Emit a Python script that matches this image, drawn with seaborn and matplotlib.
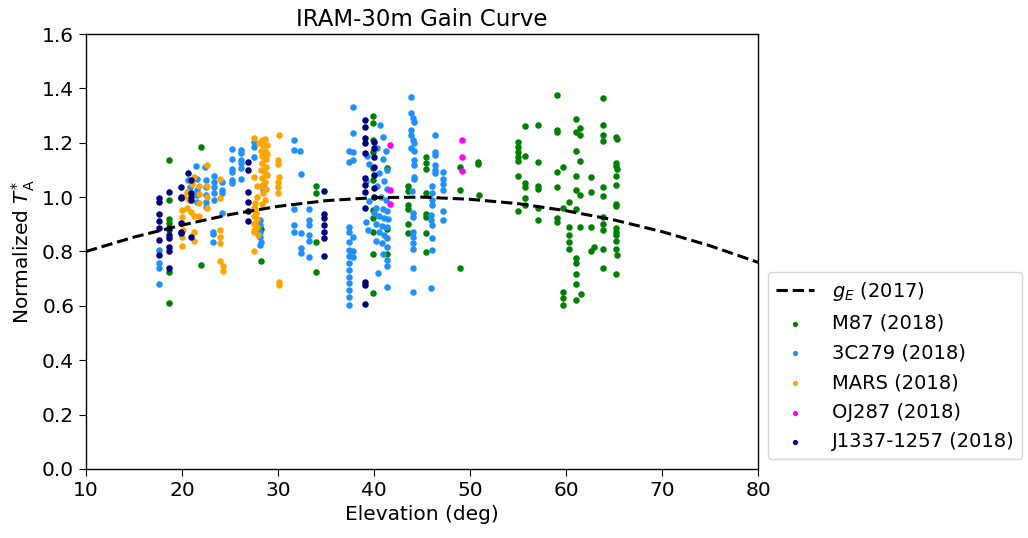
import numpy as np
import pandas as pd
import matplotlib
matplotlib.use("Agg")
import matplotlib.pyplot as plt
import seaborn as sns

# gain curve g_E (2017), every 5 deg
curve_elev = [10, 15, 20, 25, 30, 35, 40, 45, 50, 55, 60, 65, 70, 75, 80]
curve_gain = [0.800, 0.853, 0.897, 0.936, 0.966, 0.987, 0.998, 1.000, 0.992,
              0.976, 0.950, 0.916, 0.873, 0.821, 0.760]

# M87 (2018)
m87_elev = [59.1, 63.8, 55.7, 57.05, 61.0, 59.1, 59.1, 61.0, 61.5, 61.5, 63.8, 63.8, 63.8, 65.2, 65.3,
            55.0, 55.0, 55.0, 55.0, 55.0, 55.7, 57.05, 61.0, 61.5, 65.2, 65.2, 65.3, 59.1, 59.65, 50.8, 50.8,
            55.0, 61.0, 62.6, 65.2, 55.7, 55.7, 57.05, 57.05, 59.1, 63.8, 63.8, 65.2, 50.9, 61.0, 61.5, 62.6,
            55.7, 60.3, 55.7, 55.0, 57.05, 57.05, 59.65, 61.0, 65.2, 65.2, 59.1, 59.1, 60.3, 61.5, 62.6,
            63.8, 63.8, 63.8, 65.2, 65.2, 65.2, 60.3, 60.3, 60.3, 62.9, 62.6, 63.8, 65.2, 65.2, 65.3,
            61.0, 61.0, 61.0, 61.0, 61.0, 63.8, 65.2, 59.65, 59.65, 59.65, 61.6,
            49.0, 49.0, 49.0, 43.5, 43.5, 43.5, 43.5, 43.5, 43.5, 45.4, 45.4, 45.4, 45.4, 45.4, 45.4, 45.4, 45.4,
            39.9, 39.9, 39.9, 39.9, 39.9, 39.9, 41.3, 39.9, 39.9, 39.9, 41.3, 39.9, 41.3, 39.9,
            34.0, 34.0, 34.0, 34.0, 28.2, 28.2,
            18.6, 18.6, 18.6, 18.6, 18.6, 18.6, 18.6, 22.0, 22.0]
m87_gain = [1.375, 1.363, 1.260, 1.266, 1.286, 1.247, 1.240, 1.240, 1.253, 1.228, 1.265, 1.228, 1.207, 1.222, 1.215,
            1.204, 1.186, 1.167, 1.149, 1.134, 1.150, 1.131, 1.169, 1.132, 1.127, 1.114, 1.105, 1.092, 1.110, 1.131, 1.122,
            1.079, 1.079, 1.074, 1.079, 1.051, 1.036, 1.040, 1.030, 1.036, 1.036, 1.003, 1.043, 1.009, 1.025, 1.009, 1.017,
            0.995, 0.983, 0.970, 0.949, 0.961, 0.917, 0.961, 0.957, 0.975, 0.966, 0.922, 0.907, 0.891, 0.891, 0.891,
            0.926, 0.901, 0.879, 0.885, 0.873, 0.859, 0.860, 0.834, 0.809, 0.818, 0.802, 0.809, 0.840, 0.810, 0.786,
            0.777, 0.758, 0.719, 0.680, 0.622, 0.738, 0.719, 0.651, 0.628, 0.602, 0.643,
            1.112, 1.028, 0.738, 1.041, 1.024, 0.970, 0.958, 0.900, 0.867, 1.146, 1.127, 1.105, 1.016, 0.938, 0.926, 0.867, 0.797,
            1.298, 1.271, 1.210, 1.167, 1.106, 1.063, 1.106, 0.953, 0.922, 0.873, 0.881, 0.791, 0.791, 0.648,
            1.041, 1.014, 0.836, 0.726, 0.881, 0.765,
            1.136, 0.988, 0.918, 0.906, 0.880, 0.726, 0.609, 1.183, 0.750]

# 3C279 (2018)
c3c279_elev = [17.6, 17.6, 17.6, 17.6,
               21.5, 22.4, 20.66, 20.8, 21.6, 21.6, 21.6, 21.6, 22.5, 22.5, 22.5, 22.5, 22.5,
               23.3, 23.3, 23.3, 23.3, 23.3, 23.2, 23.2, 23.2, 24.2, 24.2, 24.2, 24.2,
               25.2, 25.2, 25.2, 25.2, 25.2, 25.2, 26.1, 26.1, 26.1, 26.1, 26.1, 26.1,
               27.5, 27.5, 27.5, 28.1, 28.1, 28.1, 28.1, 28.2, 28.1, 28.4, 28.4,
               31.7, 31.7, 32.3, 32.4, 31.7, 31.7, 31.7, 32.4, 32.4, 32.4, 33.2, 33.2, 33.2, 33.2, 33.2, 33.2,
               37.8, 37.8, 37.4, 37.8, 37.4, 37.8, 37.4, 37.4, 37.8, 37.4, 37.4, 37.8, 37.4, 37.8,
               37.4, 37.4, 37.4, 37.4, 37.4, 37.4, 37.4,
               40.6, 40.9, 40.3, 41.2, 40.9, 41.4, 40.5, 41.0, 40.3, 41.4, 40.7, 41.2, 39.5, 40.2, 40.9,
               41.4, 40.5, 41.0, 41.5, 39.2, 40.2, 40.8, 41.3, 40.5, 41.0, 41.4, 39.4, 40.2, 40.8, 41.3,
               40.9, 41.4, 40.4, 41.4, 41.3, 39.2, 39.3, 39.5, 40.0,
               43.8, 43.8, 44.1, 44.2, 43.8, 43.8, 44.1, 44.2, 44.2, 43.8, 44.2, 44.2, 44.2, 44.2, 44.0,
               44.1, 44.1, 44.1, 44.1, 44.1, 44.1, 44.1, 44.1,
               46.4, 46.4, 46.4, 46.4, 46.4, 46.4, 47.2, 47.2, 47.2, 47.2, 46.0, 46.0, 46.0, 46.0,
               45.9, 45.9, 46.0, 47.2, 47.2, 46.0, 46.0, 45.9]
c3c279_gain = [0.805, 0.757, 0.741, 0.680,
               1.114, 1.110, 1.063, 1.038, 1.068, 1.026, 1.008, 0.983, 1.063, 1.038, 1.008, 0.983, 0.965,
               1.078, 1.057, 1.038, 1.014, 0.989, 0.873, 0.865, 0.834, 1.057, 1.026, 1.014, 0.940,
               1.176, 1.139, 1.102, 1.094, 1.063, 1.053, 1.173, 1.163, 1.136, 1.126, 1.106, 1.068,
               1.204, 1.186, 1.149, 0.916, 0.898, 0.873, 0.855, 0.835, 0.823, 1.044, 1.026,
               1.210, 1.173, 1.171, 1.084, 0.956, 0.897, 0.873, 0.869, 0.811, 0.796, 0.958, 0.916, 0.897, 0.860, 0.840, 0.781,
               1.330, 1.235, 1.170, 1.167, 1.130, 1.135, 0.891, 0.873, 0.855, 0.836, 0.805, 0.800, 0.782, 0.780,
               0.757, 0.732, 0.707, 0.683, 0.658, 0.634, 0.603,
               1.265, 1.220, 1.180, 1.170, 1.140, 1.100, 1.090, 1.060, 1.040, 1.030, 1.000, 0.990, 0.985, 0.960, 0.955,
               0.950, 0.930, 0.925, 0.920, 0.910, 0.900, 0.895, 0.890, 0.870, 0.860, 0.850, 0.880, 0.840, 0.830, 0.815,
               0.790, 0.770, 0.720, 0.745, 0.670, 1.060, 1.150, 1.120, 0.940,
               1.367, 1.310, 1.290, 1.275, 1.247, 1.230, 1.210, 1.200, 1.170, 1.182, 1.136, 1.118, 1.075, 1.065, 1.021,
               0.940, 0.928, 0.873, 0.855, 0.830, 0.810, 0.738, 0.652,
               1.228, 1.167, 1.155, 1.118, 1.100, 1.090, 1.094, 1.066, 1.050, 1.026, 1.040, 1.014, 0.989, 0.970,
               0.935, 0.917, 0.897, 0.950, 0.916, 0.848, 0.805, 0.665]

# MARS (2018)
mars_elev = [22.6, 21.2, 21.8, 21.8, 21.8, 21.8, 22.6, 22.6, 22.6, 20.0, 20.0, 20.0, 20.1, 20.0, 20.0,
             20.5, 20.9, 21.2, 21.2, 21.2, 20.2, 20.5, 21.0, 20.7,
             24.0, 24.0, 24.0, 24.0, 24.0, 24.0, 24.3, 24.3,
             27.5, 28.3, 28.6, 28.0, 28.4, 28.8, 28.2, 28.6, 28.9, 28.3, 28.7, 28.3, 28.7, 28.2, 28.6, 28.9,
             28.3, 28.6, 28.2, 28.7, 28.4, 28.6, 28.3, 27.5, 27.8, 27.8, 27.6, 27.5, 27.5, 27.5, 27.5, 27.5,
             27.6, 27.7, 27.8, 27.6, 27.8, 27.5, 27.9,
             30.1, 30.0, 30.0, 30.1, 30.0, 30.0, 30.0, 30.1, 30.1]
mars_gain = [1.118, 1.075, 1.040, 1.010, 0.980, 0.930, 1.040, 1.000, 0.960, 0.953, 0.928, 0.904, 0.880, 0.855, 0.820,
             0.960, 0.945, 0.930, 0.870, 0.840, 1.000, 1.020, 1.050, 0.990,
             1.066, 0.995, 0.880, 0.855, 0.830, 0.764, 0.745, 0.730,
             1.216, 1.210, 1.215, 1.200, 1.190, 1.190, 1.170, 1.170, 1.160, 1.150, 1.140, 1.125, 1.110, 1.100, 1.090, 1.080,
             1.070, 1.055, 1.040, 1.030, 1.015, 0.990, 0.975, 1.075, 1.040, 1.000, 0.980, 0.960, 0.930, 0.900, 0.880, 0.800,
             0.955, 0.940, 0.920, 0.905, 0.890, 0.870, 0.860,
             1.228, 1.136, 1.122, 1.075, 1.056, 1.038, 1.014, 0.689, 0.677]

# OJ287 (2018)
oj287_elev = [41.7, 41.7, 41.7, 49.2, 49.2, 49.2]
oj287_gain = [1.190, 1.028, 0.975, 1.210, 1.146, 1.097]

# J1337-1257 (2018)
j1337_elev = [17.6, 17.6, 17.6, 17.6, 17.6, 17.6, 17.6,
              18.6, 18.6, 18.6, 18.6, 18.6, 18.6, 18.6,
              19.9, 19.9, 19.9, 19.9, 19.9, 19.9,
              20.9, 20.9, 20.9, 20.9, 20.9, 20.6,
              26.9, 26.9, 26.9, 26.9, 26.9, 26.9,
              34.8, 34.8, 34.8, 34.8, 34.8, 34.8, 34.8,
              39.1, 39.1, 39.1, 39.1, 39.1, 39.1, 39.1, 39.1, 39.1, 39.1, 39.1, 39.1,
              40.0, 40.0, 40.0, 40.0, 40.0, 40.0, 40.0]
j1337_gain = [0.995, 0.983, 0.938, 0.913, 0.885, 0.842, 0.787,
              1.020, 0.885, 0.860, 0.848, 0.818, 0.800, 0.738,
              1.038, 1.001, 0.995, 0.903, 0.873, 0.867,
              1.063, 1.014, 1.001, 0.989, 0.855, 1.087,
              1.130, 1.100, 1.020, 0.983, 0.949, 0.912,
              1.022, 0.937, 0.922, 0.897, 0.873, 0.851, 0.785,
              1.284, 1.259, 1.216, 1.198, 1.163, 1.069, 1.045, 1.020, 0.959, 0.689, 0.677, 0.607,
              1.204, 1.180, 1.149, 1.112, 1.081, 1.032, 1.001]

sources = [
    ("M87 (2018)", m87_elev, m87_gain, "green"),
    ("3C279 (2018)", c3c279_elev, c3c279_gain, "dodgerblue"),
    ("MARS (2018)", mars_elev, mars_gain, "orange"),
    ("OJ287 (2018)", oj287_elev, oj287_gain, "magenta"),
    ("J1337-1257 (2018)", j1337_elev, j1337_gain, "navy"),
]

sns.set_style("ticks")
plt.rcParams["font.family"] = ["DejaVu Sans"]
plt.rcParams["font.size"] = 14.5
for key in ["text.color", "axes.labelcolor", "xtick.color", "ytick.color", "axes.edgecolor"]:
    plt.rcParams[key] = "black"
plt.rcParams["xtick.major.size"] = 5
plt.rcParams["ytick.major.size"] = 5
plt.rcParams["axes.linewidth"] = 1.0

fig = plt.figure(figsize=(10.28, 5.38), dpi=100)
ax = fig.add_axes([0.0837, 0.1283, 0.6537, 0.8085])

curve = pd.DataFrame({"elev": curve_elev, "gain": curve_gain})
sns.lineplot(data=curve, x="elev", y="gain", ax=ax, color="black", linestyle="--",
             linewidth=2.2, label=r"$g_E$ (2017)")

for name, elev, gain, col in sources:
    df = pd.DataFrame({"elev": elev, "gain": gain})
    sns.scatterplot(data=df, x="elev", y="gain", ax=ax, color=col, s=22,
                    linewidth=0, label=name)

ax.set_xlim(10, 80)
ax.set_ylim(0, 1.6)
ax.set_xticks(np.arange(10, 81, 10))
ax.set_yticks(np.arange(0, 1.61, 0.2))
ax.set_yticklabels([f"{v:.1f}" for v in np.arange(0, 1.61, 0.2)])
ax.tick_params(labelsize=14.5)
ax.set_xlabel("Elevation (deg)", fontsize=14.5)
ax.set_ylabel(r"Normalized $T^{*}_{\rm A}$", fontsize=14.5)
ax.set_title("IRAM-30m Gain Curve", fontsize=16.5)

ax.legend(loc="lower left", bbox_to_anchor=(1.0, 0.0), fontsize=14, markerscale=0.8,
          labelspacing=0.55, handletextpad=0.9, edgecolor="0.8")

fig.savefig("out.png", dpi=100)
